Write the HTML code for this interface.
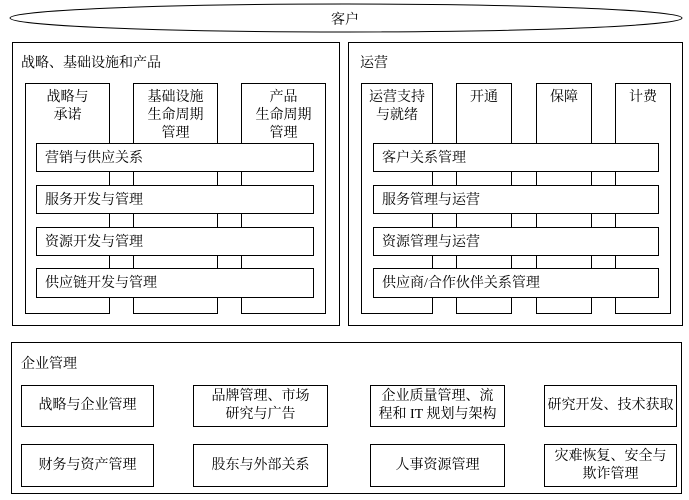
<!DOCTYPE html>
<html><head><meta charset="utf-8"><style>
body{margin:0;width:689px;height:500px;background:#fff;position:relative;overflow:hidden;font-family:"Liberation Serif","Noto Serif CJK SC",serif;font-size:14px;color:#000}
.b{position:absolute;border:1px solid #000;background:#fff;box-sizing:border-box}
.t{position:absolute;white-space:nowrap}
.col{text-align:center;line-height:18px;padding-top:5px}
.bar{line-height:30px;padding-left:8px}
.c{display:flex;align-items:center;justify-content:center;text-align:center;line-height:18px}
</style></head><body>
<svg style="position:absolute;left:0;top:0" width="689" height="40"><ellipse cx="346" cy="18" rx="336" ry="14" fill="#fff" stroke="#000" stroke-width="1"/></svg>
<div class="t" style="left:331px;top:9px">客户</div>

<div class="b" style="left:12px;top:42px;width:328px;height:284px"></div>
<div class="t" style="left:21px;top:52px">战略、基础设施和产品</div>
<div class="b col" style="left:25px;top:83px;width:85px;height:231px">战略与<br>承诺</div>
<div class="b col" style="left:133px;top:83px;width:85px;height:231px">基础设施<br>生命周期<br>管理</div>
<div class="b col" style="left:241px;top:83px;width:85px;height:231px">产品<br>生命周期<br>管理</div>
<div class="b bar" style="left:36px;top:143px;width:278px;height:29px">营销与供应关系</div>
<div class="b bar" style="left:36px;top:185px;width:278px;height:29px">服务开发与管理</div>
<div class="b bar" style="left:36px;top:227px;width:278px;height:29px">资源开发与管理</div>
<div class="b bar" style="left:36px;top:268px;width:278px;height:30px">供应链开发与管理</div>

<div class="b" style="left:348px;top:42px;width:335px;height:284px"></div>
<div class="t" style="left:360px;top:52px">运营</div>
<div class="b col" style="left:361px;top:83px;width:72px;height:231px">运营支持<br>与就绪</div>
<div class="b col" style="left:456px;top:83px;width:56px;height:231px">开通</div>
<div class="b col" style="left:536px;top:83px;width:56px;height:231px">保障</div>
<div class="b col" style="left:615px;top:83px;width:56px;height:231px">计费</div>
<div class="b bar" style="left:373px;top:143px;width:286px;height:29px">客户关系管理</div>
<div class="b bar" style="left:373px;top:185px;width:286px;height:29px">服务管理与运营</div>
<div class="b bar" style="left:373px;top:227px;width:286px;height:29px">资源管理与运营</div>
<div class="b bar" style="left:373px;top:268px;width:286px;height:30px">供应商/合作伙伴关系管理</div>

<div class="b" style="left:11px;top:342px;width:671px;height:152px"></div>
<div class="t" style="left:21px;top:353px">企业管理</div>
<div class="b c" style="left:21px;top:385px;width:133px;height:42px">战略与企业管理</div>
<div class="b c" style="left:193px;top:385px;width:135px;height:42px">品牌管理、市场<br>研究与广告</div>
<div class="b c" style="left:370px;top:385px;width:135px;height:42px">企业质量管理、流<br>程和 IT 规划与架构</div>
<div class="b c" style="left:544px;top:385px;width:133px;height:42px">研究开发、技术获取</div>
<div class="b c" style="left:21px;top:444px;width:133px;height:43px">财务与资产管理</div>
<div class="b c" style="left:193px;top:444px;width:135px;height:43px">股东与外部关系</div>
<div class="b c" style="left:370px;top:444px;width:135px;height:43px">人事资源管理</div>
<div class="b c" style="left:544px;top:444px;width:133px;height:43px">灾难恢复、安全与<br>欺诈管理</div>
</body></html>
